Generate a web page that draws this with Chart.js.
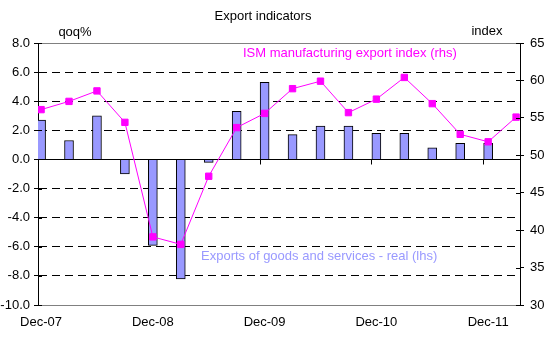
<!DOCTYPE html>
<html>
<head>
<meta charset="utf-8">
<script src="https://cdn.jsdelivr.net/npm/chart.js@4"></script>
<style>
  html, body { margin: 0; padding: 0; background: #fff; }
</style>
</head>
<body>
<canvas id="myChart" width="556" height="343"></canvas>
<script>
// quarterly, Dec-07 .. Mar-12
var quarters = ['Dec-07', 'Mar-08', 'Jun-08', 'Sep-08', 'Dec-08', 'Mar-09', 'Jun-09', 'Sep-09',
                'Dec-09', 'Mar-10', 'Jun-10', 'Sep-10', 'Dec-10', 'Mar-11', 'Jun-11', 'Sep-11',
                'Dec-11', 'Mar-12'];
// exports of goods and services - real, qoq% (lhs)
var exportsReal = [2.7, 1.3, 3.0, -1.0, -5.9, -8.2, -0.2, 3.3, 5.3, 1.7, 2.3, 2.3, 1.8, 1.8, 0.8, 1.1, 1.1];
// ISM manufacturing export index (rhs)
var ismExports = [56.1, 57.2, 58.6, 54.4, 39.1, 38.1, 47.2, 53.7, 55.6, 58.9, 59.9, 55.7, 57.5, 60.4, 56.9, 52.8, 51.8, 55.1];
// which quarters get a label on the x axis
var labelQuarters = [0, 4, 8, 12, 16];

var FONT = '"Liberation Sans", Arial, sans-serif';

var data = {
  datasets: [
    {
      type: 'line',
      label: 'ISM manufacturing export index (rhs)',
      data: ismExports.map(function (v, i) { return { x: i, y: v }; }),
      yAxisID: 'y2',
      borderColor: '#FF00FF',
      borderWidth: 1,
      pointStyle: 'rect',
      pointRadius: 4.5,
      pointBackgroundColor: '#FF00FF',
      pointBorderColor: '#FF00FF',
      pointBorderWidth: 1,
      tension: 0,
      order: 0
    },
    {
      type: 'bar',
      label: 'Exports of goods and services - real (lhs)',
      data: exportsReal.map(function (v, i) { return { x: i, y: v }; }),
      yAxisID: 'y',
      backgroundColor: '#9999FF',
      borderColor: '#000000',
      borderWidth: 1,
      barThickness: 9,
      order: 1
    }
  ]
};

// texts, the little ticks on the zero line and the crossing ticks on both value axes
var extras = {
  id: 'extras',
  afterDraw: function (chart) {
    var ctx = chart.ctx;
    var x = chart.scales.x, y = chart.scales.y, y2 = chart.scales.y2;
    ctx.save();
    ctx.strokeStyle = '#000';
    ctx.lineWidth = 1;
    var y0 = Math.round(y.getPixelForValue(0)) + 0.5;
    labelQuarters.forEach(function (q) {
      if (q === 0) return;
      var px = Math.round(x.getPixelForValue(q - 0.18)) + 0.5;
      ctx.beginPath();
      ctx.moveTo(px, y0);
      ctx.lineTo(px, y0 + 5);
      ctx.stroke();
    });
    y.ticks.forEach(function (t) {
      var py = Math.round(y.getPixelForValue(t.value)) + 0.5;
      ctx.beginPath();
      ctx.moveTo(y.right, py);
      ctx.lineTo(y.right + 4, py);
      ctx.stroke();
    });
    y2.ticks.forEach(function (t) {
      var py = Math.round(y2.getPixelForValue(t.value)) + 0.5;
      ctx.beginPath();
      ctx.moveTo(y2.left - 4, py);
      ctx.lineTo(y2.left, py);
      ctx.stroke();
    });

    ctx.font = '13px ' + FONT;
    ctx.textBaseline = 'middle';
    ctx.textAlign = 'center';
    ctx.fillStyle = '#000';
    ctx.fillText('Export indicators', 263, 16);
    ctx.fillText('qoq%', 75, 32);
    ctx.fillText('index', 487, 31);
    ctx.textAlign = 'left';
    ctx.fillStyle = '#FF00FF';
    ctx.fillText('ISM manufacturing export index (rhs)', 243, 53);
    ctx.fillStyle = '#9999FF';
    ctx.fillText('Exports of goods and services - real (lhs)', 201, 256);
    ctx.restore();
  }
};

var solidAt = [8, 0, -10];

new Chart(document.getElementById('myChart'), {
  type: 'bar',
  data: data,
  plugins: [extras],
  options: {
    responsive: false,
    animation: false,
    layout: { padding: { top: 43, left: 0, right: 0, bottom: 0 } },
    plugins: { legend: { display: false }, tooltip: { enabled: false } },
    scales: {
      x: {
        type: 'linear',
        min: -0.11,
        max: 17.14,
        offset: false,
        grid: { display: false, drawTicks: false },
        border: { color: '#808080' },
        afterBuildTicks: function (scale) {
          scale.ticks = labelQuarters.map(function (q) { return { value: q }; });
        },
        afterFit: function (scale) { scale.height = 38; },
        ticks: {
          padding: 10,
          maxRotation: 0,
          autoSkip: false,
          color: '#000',
          font: { family: FONT, size: 13 },
          callback: function (v) { return quarters[v]; }
        }
      },
      y: {
        position: 'left',
        min: -10,
        max: 8,
        afterFit: function (scale) { scale.width = 38; },
        ticks: {
          stepSize: 2,
          padding: 4,
          color: '#000',
          font: { family: FONT, size: 13 },
          callback: function (v) { return v.toFixed(1); }
        },
        grid: {
          color: function (c) {
            if (c.tick && (c.tick.value === 8 || c.tick.value === -10)) return '#808080';
            return '#000';
          },
          tickColor: '#000',
          tickLength: 4
        },
        border: {
          color: '#000',
          dash: function (c) {
            return (c.tick && solidAt.indexOf(c.tick.value) >= 0) ? [] : [8, 5];
          }
        }
      },
      y2: {
        position: 'right',
        min: 30,
        max: 65,
        afterFit: function (scale) { scale.width = 36; },
        ticks: {
          stepSize: 5,
          padding: 6,
          color: '#000',
          font: { family: FONT, size: 13 }
        },
        grid: { drawOnChartArea: false, tickColor: '#000', tickLength: 4 },
        border: { color: '#000' }
      }
    }
  }
});
</script>
</body>
</html>
